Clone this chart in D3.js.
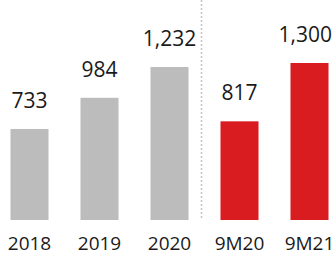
<!DOCTYPE html>
<html>
<head>
<meta charset="utf-8">
<script src="https://cdn.jsdelivr.net/npm/d3@7"></script>
<style>
  body { margin: 0; background: #fff; }
  svg { display: block; }
</style>
</head>
<body>
<script>
// values
var categories = ["2018", "2019", "2020", "9M20", "9M21"];
var values = [733, 984, 1232, 817, 1300];
var valueLabels = ["733", "984", "1,232", "817", "1,300"];
var isPeriod = [false, false, false, true, true];

var width = 334, height = 255, baseY = 220;

var svg = d3.select("body").append("svg")
    .attr("width", width)
    .attr("height", height);

var x = d3.scaleBand()
    .domain(categories)
    .range([-5.5, 344.5])
    .paddingInner(0.457)
    .paddingOuter(0.2285);

// full years and the nine-month bars are drawn a bit differently in the source
var yYear = d3.scaleLinear().domain([0, 1232]).range([baseY, 67]);
var yPeriod = d3.scaleLinear().domain([0, 1300]).range([baseY, 63]);

function yOf(i) { return isPeriod[i] ? yPeriod(values[i]) : yYear(values[i]); }

// dotted divider between years and 9M
var divX = (x("2020") + x.bandwidth() + x("9M20")) / 2 - 3;
svg.append("line")
    .attr("x1", divX).attr("x2", divX)
    .attr("y1", 0).attr("y2", baseY)
    .attr("stroke", "#c4c4c4")
    .attr("stroke-width", 1.5)
    .attr("stroke-dasharray", "2,2");

svg.selectAll("rect.bar")
    .data(categories)
    .enter().append("rect")
    .attr("class", "bar")
    .attr("x", function(d) { return x(d); })
    .attr("width", x.bandwidth())
    .attr("y", function(d, i) { return yOf(i); })
    .attr("height", function(d, i) { return baseY - yOf(i); })
    .attr("fill", function(d, i) { return isPeriod[i] ? "#d91c1f" : "#bcbcbc"; });

svg.selectAll("text.val")
    .data(categories)
    .enter().append("text")
    .attr("class", "val")
    .attr("x", function(d) { return x(d) + x.bandwidth() / 2; })
    .attr("y", function(d, i) { return yOf(i) - 21; })
    .attr("text-anchor", "middle")
    .style("font-family", "Open Sans, sans-serif")
    .style("font-size", "21px")
    .style("fill", "#1a1a1a")
    .text(function(d, i) { return valueLabels[i]; })
    .each(function() {
        // keep the label inside the right edge
        var w = this.getComputedTextLength();
        var cx = +d3.select(this).attr("x");
        if (cx + w / 2 > width - 2) d3.select(this).attr("x", width - 2 - w / 2);
    });

svg.selectAll("text.cat")
    .data(categories)
    .enter().append("text")
    .attr("class", "cat")
    .attr("x", function(d) { return x(d) + x.bandwidth() / 2; })
    .attr("y", 250)
    .attr("text-anchor", "middle")
    .style("font-family", "Open Sans, sans-serif")
    .style("font-size", "19px")
    .style("fill", "#1a1a1a")
    .text(function(d) { return d; });
</script>
</body>
</html>
